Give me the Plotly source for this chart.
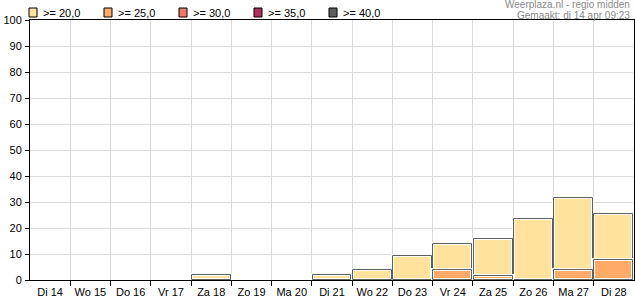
import plotly.graph_objects as go

days = ["Di 14", "Wo 15", "Do 16", "Vr 17", "Za 18", "Zo 19", "Ma 20", "Di 21",
        "Wo 22", "Do 23", "Vr 24", "Za 25", "Zo 26", "Ma 27", "Di 28"]
ge20 = [0, 0, 0, 0, 1.9, 0, 0, 1.8, 3.7, 9.3, 13.7, 15.6, 23.3, 31.4, 25.3]
ge25 = [0, 0, 0, 0, 0, 0, 0, 0, 0, 0, 3.7, 1.5, 0, 3.7, 7.7]
legend_labels = [">= 20,0", ">= 25,0", ">= 30,0", ">= 35,0", ">= 40,0"]
legend_colors = ["#FFE29C", "#FFAA66", "#F07868", "#B0305C", "#5E5E5E"]
y_ticks = list(range(0, 101, 10))

W, H = 635, 300
L, R, T, B = 30, 1, 20, 20

x = list(range(len(days)))
fig = go.Figure()

def add_series(vals, color):
    v = [val if val > 0 else None for val in vals]
    fig.add_trace(go.Bar(x=x, y=v, width=0.965, marker=dict(color=color, line=dict(color="white", width=3)),
                         showlegend=False, hoverinfo="skip"))
    fig.add_trace(go.Bar(x=x, y=v, width=0.965, marker=dict(color="rgba(0,0,0,0)", line=dict(color="#5f5f5f", width=1)),
                         showlegend=False, hoverinfo="skip"))

add_series(ge20, legend_colors[0])
add_series(ge25, legend_colors[1])

font = dict(family="Liberation Sans, Arial, sans-serif", size=11, color="black")

fig.update_layout(
    width=W, height=H, margin=dict(l=L, r=R, t=T, b=B),
    paper_bgcolor="white", plot_bgcolor="white", barmode="overlay", bargap=0,
    font=font, showlegend=False,
    xaxis=dict(range=[-0.5, len(days) - 0.5], tickvals=x, ticktext=days, ticks="", showgrid=False,
               showline=True, linecolor="black", linewidth=1, mirror=True, zeroline=False,
               tickfont=font, ticklabelstandoff=2,
               minor=dict(tickvals=[i + 0.5 for i in range(len(days) - 1)], ticks="outside", ticklen=5,
                          tickcolor="black", showgrid=True, gridcolor="#dcdcdc", gridwidth=1)),
    yaxis=dict(range=[0, 100], tickvals=y_ticks, ticks="outside", ticklen=4, tickcolor="black",
               showgrid=True, gridcolor="#dcdcdc", gridwidth=1, showline=True, linecolor="black",
               linewidth=1, mirror=True, zeroline=False, tickfont=font, ticklabelstandoff=1),
)

# legend drawn at top
pw = W - L - R
for i, (lab, col) in enumerate(zip(legend_labels, legend_colors)):
    x0 = 29 + 75 * i
    fig.add_shape(type="rect", xref="paper", yref="paper",
                  x0=(x0 - L) / pw, x1=(x0 + 8 - L) / pw,
                  y0=(H - B - 17) / (H - T - B), y1=(H - B - 8) / (H - T - B),
                  fillcolor=col, line=dict(color="black", width=1))
    fig.add_annotation(text=lab, xref="paper", yref="paper", x=(x0 + 12 - L) / pw,
                       y=(H - B - 12.5) / (H - T - B), xanchor="left", yanchor="middle",
                       showarrow=False, font=font)

gray = dict(family="Liberation Sans, Arial, sans-serif", size=10, color="#8a8a8a")
fig.add_annotation(text="Weerplaza.nl - regio midden", xref="paper", yref="paper",
                   x=(632 - L) / pw, y=(H - B - 4.5) / (H - T - B), xanchor="right", yanchor="middle",
                   showarrow=False, font=gray)
fig.add_annotation(text="Gemaakt: di 14 apr 09:23", xref="paper", yref="paper",
                   x=(632 - L) / pw, y=(H - B - 15) / (H - T - B), xanchor="right", yanchor="middle",
                   showarrow=False, font=gray)

fig.write_html("out.html")
